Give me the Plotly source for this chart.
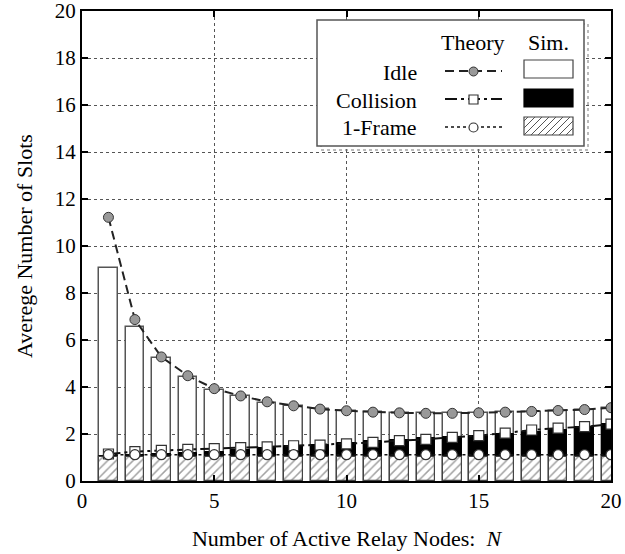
import plotly.graph_objects as go

N = list(range(1, 21))
idle_theory = [11.22, 6.87, 5.28, 4.48, 3.93, 3.62, 3.37, 3.2, 3.06, 2.99, 2.93, 2.9, 2.88, 2.88, 2.9, 2.93, 2.96, 3.0, 3.04, 3.12]
idle_sim = [9.06, 6.57, 5.22, 4.42, 3.88, 3.6, 3.33, 3.18, 3.05, 2.98, 2.92, 2.9, 2.88, 2.88, 2.9, 2.92, 2.95, 3.0, 3.03, 3.1]
coll_theory = [1.15, 1.25, 1.3, 1.35, 1.38, 1.42, 1.45, 1.5, 1.53, 1.58, 1.64, 1.72, 1.77, 1.86, 1.93, 2.04, 2.17, 2.25, 2.31, 2.42]
coll_sim = [1.05, 1.1, 1.15, 1.2, 1.25, 1.32, 1.4, 1.48, 1.55, 1.62, 1.7, 1.76, 1.82, 1.88, 1.93, 2.0, 2.08, 2.16, 2.3, 2.42]
frame_theory = [1.12] * 20
frame_sim = [1.02] * 20

x_ticks = [0, 5, 10, 15, 20]
y_ticks = [0, 2, 4, 6, 8, 10, 12, 14, 16, 18, 20]

FONT = "Liberation Serif, Times New Roman, serif"
BW = 0.7

fig = go.Figure()
fig.add_trace(go.Bar(x=N, y=idle_sim, width=BW, marker=dict(color="white", line=dict(color="#555", width=1.5)), showlegend=False))
fig.add_trace(go.Bar(x=N, y=coll_sim, width=BW, marker=dict(color="black", line=dict(color="black", width=1)), showlegend=False))
fig.add_trace(go.Bar(x=N, y=frame_sim, width=BW,
                     marker=dict(color="white", line=dict(color="#444", width=1.2),
                                 pattern=dict(shape="/", fgcolor="#444", bgcolor="white", size=6, solidity=0.25)),
                     showlegend=False))
fig.add_trace(go.Scatter(x=N, y=idle_theory, mode="lines+markers",
                         line=dict(color="#222", width=2, dash="9px,5px"),
                         marker=dict(symbol="circle", size=10, color="#999", line=dict(color="#333", width=1)),
                         showlegend=False))
fig.add_trace(go.Scatter(x=N, y=coll_theory, mode="lines+markers",
                         line=dict(color="#111", width=2, dash="12px,4px,3px,4px"),
                         marker=dict(symbol="square", size=10, color="white", line=dict(color="#333", width=1.2)),
                         showlegend=False))
fig.add_trace(go.Scatter(x=N, y=frame_theory, mode="lines+markers",
                         line=dict(color="#111", width=1.6, dash="3px,3px"),
                         marker=dict(symbol="circle", size=10, color="white", line=dict(color="#333", width=1.2)),
                         showlegend=False))

# Legend drawn with shapes/annotations (pixel-ish paper coords)
W, H = 625, 554
L, R, T, B = 82, 14, 11, 73
pw, ph = W - L - R, H - T - B

def px(x):
    return (x - L) / pw

def py(y):
    return 1 - (y - T) / ph

shapes = []
shapes.append(dict(type="rect", xref="paper", yref="paper", x0=px(321), x1=px(588), y0=py(150), y1=py(24),
                   line=dict(color="#777", width=1, dash="dot"), fillcolor="rgba(0,0,0,0)", layer="above"))
shapes.append(dict(type="rect", xref="paper", yref="paper", x0=px(317), x1=px(584), y0=py(146), y1=py(20),
                   line=dict(color="#555", width=1.5), fillcolor="white", layer="above"))
shapes.append(dict(type="rect", xref="paper", yref="paper", x0=px(524), x1=px(573), y0=py(78), y1=py(60),
                   line=dict(color="#444", width=1.2), fillcolor="white", layer="above"))
shapes.append(dict(type="rect", xref="paper", yref="paper", x0=px(524), x1=px(573), y0=py(107), y1=py(89),
                   line=dict(color="black", width=1.2), fillcolor="black", layer="above"))
shapes.append(dict(type="rect", xref="paper", yref="paper", x0=px(524), x1=px(573), y0=py(135), y1=py(117),
                   line=dict(color="#444", width=1.2), fillcolor="white", layer="above"))
for k in range(-3, 7):
    xa = 524 + k * 7
    x0, y0 = xa, 135
    x1, y1 = xa + 18, 117
    if x0 < 524:
        y0 = 135 - (524 - x0)
        x0 = 524
    if x1 > 573:
        y1 = 117 + (x1 - 573)
        x1 = 573
    if x1 > x0:
        shapes.append(dict(type="line", xref="paper", yref="paper", x0=px(x0), x1=px(x1), y0=py(y0), y1=py(y1),
                           line=dict(color="#555", width=1), layer="above"))
shapes.append(dict(type="line", xref="paper", yref="paper", x0=px(445), x1=px(502), y0=py(71), y1=py(71),
                   line=dict(color="#222", width=2, dash="9px,5px"), layer="above"))
shapes.append(dict(type="line", xref="paper", yref="paper", x0=px(445), x1=px(502), y0=py(99), y1=py(99),
                   line=dict(color="#111", width=2, dash="12px,4px,3px,4px"), layer="above"))
shapes.append(dict(type="line", xref="paper", yref="paper", x0=px(445), x1=px(502), y0=py(127), y1=py(127),
                   line=dict(color="#111", width=1.6, dash="3px,3px"), layer="above"))
shapes.append(dict(type="circle", xref="paper", yref="paper", x0=px(469), x1=px(478), y0=py(76), y1=py(67),
                   line=dict(color="#333", width=1), fillcolor="#999", layer="above"))
shapes.append(dict(type="rect", xref="paper", yref="paper", x0=px(469), x1=px(478), y0=py(104), y1=py(95),
                   line=dict(color="#333", width=1.2), fillcolor="white", layer="above"))
shapes.append(dict(type="circle", xref="paper", yref="paper", x0=px(469), x1=px(478), y0=py(132), y1=py(123),
                   line=dict(color="#333", width=1.2), fillcolor="white", layer="above"))

annos = []
def txt(s, x, y, anchor="center"):
    annos.append(dict(text=s, xref="paper", yref="paper", x=px(x), y=py(y), xanchor=anchor, yanchor="middle",
                      showarrow=False, font=dict(family=FONT, size=22, color="black")))

txt("Theory", 473, 43)
txt("Sim.", 548, 43)
txt("Idle", 419, 72, "right")
txt("Collision", 419, 100, "right")
txt("1-Frame", 419, 128, "right")

fig.update_layout(
    width=W, height=H,
    margin=dict(l=L, r=R, t=T, b=B),
    paper_bgcolor="white", plot_bgcolor="white",
    barmode="overlay",
    bargap=0,
    font=dict(family=FONT, size=21, color="black"),
    shapes=shapes, annotations=annos,
    xaxis=dict(range=[0, 20], tickvals=x_ticks, ticktext=[str(v) for v in x_ticks],
               showgrid=True, gridcolor="#555", griddash="dot", gridwidth=1,
               showline=True, linecolor="black", linewidth=2, mirror="allticks",
               ticks="inside", ticklen=6, tickcolor="black", tickwidth=1.5,
               zeroline=False, automargin=False, ticklabeloverflow="allow",
               tickfont=dict(family=FONT, size=21),
               title=dict(text="Number of Active Relay Nodes:  <i>N</i>", font=dict(family=FONT, size=22), standoff=18)),
    yaxis=dict(range=[0, 20], tickvals=y_ticks, ticktext=[str(v) for v in y_ticks],
               showgrid=True, gridcolor="#555", griddash="dot", gridwidth=1,
               showline=True, linecolor="black", linewidth=2, mirror="allticks",
               ticks="inside", ticklen=6, tickcolor="black", tickwidth=1.5,
               zeroline=False, automargin=False, ticklabeloverflow="allow",
               tickfont=dict(family=FONT, size=21),
               title=dict(text="Averege Number of Slots", font=dict(family=FONT, size=22), standoff=16)),
)

fig.write_html("out.html", config={"displayModeBar": False},
               post_script="document.body.style.margin='0';document.body.style.padding='0';")
